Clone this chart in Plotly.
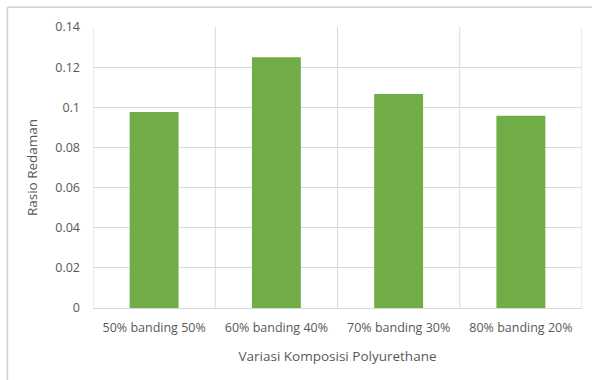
import plotly.graph_objects as go

categories = ["50% banding 50%", "60% banding 40%", "70% banding 30%", "80% banding 20%"]
rasio_redaman = [0.0977, 0.1249, 0.1066, 0.0958]
y_ticks = [0, 0.02, 0.04, 0.06, 0.08, 0.1, 0.12, 0.14]
y_tick_labels = ["0", "0.02", "0.04", "0.06", "0.08", "0.1", "0.12", "0.14"]

text_color = "#595959"
grid_color = "#d9d9d9"
font_family = "Open Sans, Noto Sans, sans-serif"

fig = go.Figure()
fig.add_trace(go.Bar(
    x=list(range(len(categories))),
    y=rasio_redaman,
    width=0.4,
    marker=dict(color="#70ad47", line=dict(width=0)),
    hoverinfo="y",
))

# vertical grid lines between categories (Excel style)
for b in [i - 0.5 for i in range(len(categories) + 1)]:
    fig.add_shape(type="line", xref="x", yref="paper", x0=b, x1=b, y0=0, y1=1,
                  line=dict(color=grid_color, width=1), layer="below")

# chart frame: left and top edges
fig.add_shape(type="line", xref="paper", yref="paper", x0=-0.175, x1=-0.175, y0=-0.3, y1=1.07,
              line=dict(color="#d0d0d0", width=1.5))
fig.add_shape(type="line", xref="paper", yref="paper", x0=-0.175, x1=1.02, y0=1.07, y1=1.07,
              line=dict(color="#d0d0d0", width=1.5))

fig.update_layout(
    width=594, height=380,
    margin=dict(l=93, r=12, t=27, b=72),
    paper_bgcolor="white", plot_bgcolor="white",
    font=dict(family=font_family, size=12, color=text_color),
    showlegend=False,
    bargap=0.6,
    xaxis=dict(
        tickmode="array",
        tickvals=list(range(len(categories))),
        ticktext=categories,
        range=[-0.5, len(categories) - 0.5],
        showgrid=False, zeroline=False,
        showline=True, linecolor=grid_color, linewidth=1,
        ticks="", ticklabelstandoff=8,
        tickfont=dict(size=12.5, color=text_color),
        title=dict(text="Variasi Komposisi Polyurethane", font=dict(size=13.5, color=text_color), standoff=16),
    ),
    yaxis=dict(
        tickmode="array", tickvals=y_ticks, ticktext=y_tick_labels,
        range=[0, 0.14],
        showgrid=True, gridcolor=grid_color, gridwidth=1,
        zeroline=False, showline=False, ticks="",
        ticklabelstandoff=12,
        tickfont=dict(size=12.5, color=text_color),
        title=dict(text="Rasio Redaman", font=dict(size=13.5, color=text_color), standoff=14),
    ),
)

fig.write_html("out.html")
